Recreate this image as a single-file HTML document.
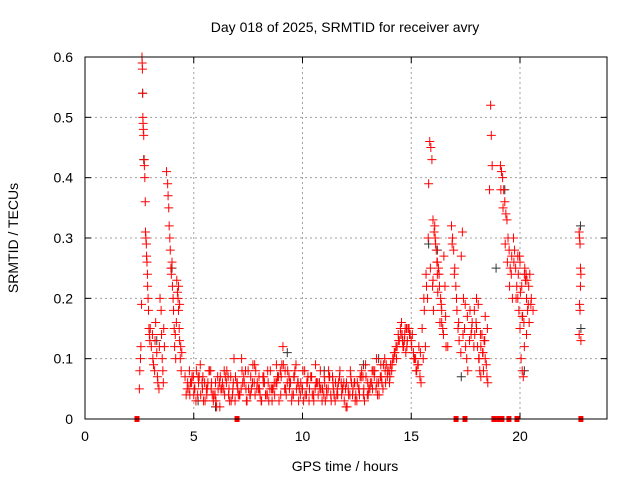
<!DOCTYPE html>
<html><head><meta charset="utf-8"><style>
body{margin:0;background:#fff;}
svg text{font-family:"Liberation Sans",sans-serif;font-size:14px;fill:#000;}
</style></head><body>
<svg id="chart" width="640" height="480" xmlns="http://www.w3.org/2000/svg">
<rect width="640" height="480" fill="#fff"/>
<text x="345" y="32" text-anchor="middle">Day 018 of 2025, SRMTID for receiver avry</text>
<text x="345" y="471" text-anchor="middle">GPS time / hours</text>
<text transform="translate(18,238) rotate(-90)" text-anchor="middle">SRMTID / TECUs</text>
<g id="grid"></g>
<g id="ticks"></g>
<g id="black"></g>
<g id="red"></g>
<g id="sq"></g>
<rect x="85" y="57" width="522" height="362" fill="none" stroke="#000" stroke-width="1"/>
</svg>
<script>
const xTicks=[0,5,10,15,20];
const yTicks=[0,0.1,0.2,0.3,0.4,0.5,0.6];
const yTickLabels=["0","0.1","0.2","0.3","0.4","0.5","0.6"];
const zeroTimes=[2.39,6.99,17.06,17.47,18.8,19.02,19.17,19.49,19.86,22.8];
const redT=[
2.5,2.52,2.55,2.57,2.6,2.62,2.63,2.64,2.65,2.66,2.67,2.68,2.7,2.72,2.73,2.75,2.77,2.78,2.8,2.82,2.83,2.85,2.87,2.88,2.9,2.92,2.94,2.96,2.98,3.0,
3.05,3.1,3.12,3.15,3.2,3.22,3.25,3.3,3.33,3.35,3.4,3.42,3.45,3.5,3.52,3.55,3.58,3.6,3.62,3.65,
3.75,3.8,3.82,3.85,3.87,3.9,3.92,3.95,3.97,4.0,4.02,4.05,4.07,4.1,4.12,4.15,4.17,4.2,4.22,4.25,
4.28,4.3,4.33,4.35,4.38,4.4,4.42,4.45,4.3,4.35,
4.6,4.7,4.8,4.9,5.0,5.1,5.2,5.3,5.4,5.5,5.6,5.7,5.8,5.9,6.0,6.1,6.2,6.3,6.4,6.5,6.6,6.7,6.8,6.9,7.0,7.1,7.2,7.3,7.4,7.5,7.6,7.7,7.8,7.9,8.0,8.1,8.2,8.3,8.4,8.5,8.6,8.7,8.8,8.9,9.0,9.1,9.2,9.3,9.4,9.5,9.6,9.7,9.8,9.9,10.0,10.1,10.2,10.3,10.4,10.5,10.6,10.7,10.8,10.9,11.0,11.1,11.2,11.3,11.4,11.5,11.6,11.7,11.8,11.9,12.0,12.1,12.2,12.3,12.4,12.5,12.6,12.7,12.8,12.9,13.0,13.1,13.2,13.3,13.4,13.5,13.6,13.7,13.8,13.9,
4.65,4.85,5.05,5.25,5.45,5.65,5.85,6.05,6.25,6.45,6.65,6.85,7.05,7.25,7.45,7.65,7.85,8.05,8.25,8.45,8.65,8.85,9.05,9.25,9.45,9.65,9.85,10.05,10.25,10.45,10.65,10.85,11.05,11.25,11.45,11.65,11.85,12.05,12.25,12.45,12.65,12.85,13.05,13.25,13.45,13.65,13.85,
14.0,14.1,14.2,14.3,14.4,14.5,14.6,14.7,14.8,14.9,15.0,15.1,15.2,15.3,15.4,14.05,14.25,14.45,14.65,14.85,15.05,15.25,15.45,14.55,14.75,
15.5,15.6,15.7,15.8,15.85,15.9,15.95,16.0,16.05,16.1,16.15,16.2,16.25,16.3,16.35,16.4,16.45,16.5,16.55,16.6,15.55,15.65,15.75,16.0,16.2,16.4,
16.85,16.9,16.95,17.0,17.05,17.1,17.15,17.2,17.3,17.35,17.4,17.45,17.5,17.55,17.6,17.7,17.75,17.8,
17.9,18.0,18.05,18.1,18.15,18.2,18.25,18.3,18.35,18.4,18.45,18.5,18.0,18.2,18.4,
18.65,18.68,18.72,18.6,
19.1,19.15,19.2,19.25,19.3,19.35,19.4,19.45,19.5,19.55,19.6,19.65,
19.7,19.75,19.8,19.85,19.9,19.95,20.0,20.05,20.1,20.15,20.2,20.25,20.3,20.35,20.4,20.45,20.5,19.9,20.0,20.1,20.2,20.3,
22.72,22.74,22.76,22.78,22.8,22.78,22.74,22.76,22.72,22.8
];
const redV=[
0.05,0.08,0.1,0.12,0.19,0.6,0.59,0.58,0.54,0.5,0.49,0.48,0.47,0.43,0.42,0.40,0.36,0.31,0.30,0.29,0.27,0.26,0.24,0.22,0.2,0.18,0.15,0.14,0.13,0.15,
0.12,0.14,0.1,0.09,0.08,0.13,0.16,0.11,0.07,0.06,0.05,0.12,0.2,0.18,0.14,0.10,0.08,0.06,0.15,0.12,
0.41,0.39,0.37,0.35,0.32,0.3,0.28,0.25,0.24,0.26,0.22,0.2,0.18,0.15,0.12,0.14,0.1,0.16,0.23,0.21,
0.2,0.18,0.15,0.13,0.1,0.12,0.08,0.11,0.22,0.19,
0.07,0.05,0.08,0.06,0.04,0.03,0.07,0.09,0.05,0.06,0.04,0.08,0.05,0.03,0.06,0.07,0.02,0.05,0.08,0.06,0.04,0.07,0.05,0.03,0.06,0.04,0.1,0.07,0.05,0.08,0.04,0.06,0.09,0.05,0.07,0.03,0.06,0.04,0.08,0.05,0.03,0.06,0.09,0.07,0.04,0.12,0.08,0.06,0.05,0.03,0.07,0.09,0.06,0.04,0.05,0.08,0.06,0.03,0.07,0.04,0.09,0.06,0.05,0.03,0.07,0.05,0.08,0.04,0.06,0.03,0.05,0.07,0.04,0.06,0.02,0.05,0.08,0.04,0.06,0.03,0.05,0.07,0.04,0.09,0.06,0.05,0.08,0.07,0.1,0.06,0.09,0.05,0.08,0.07,
0.04,0.06,0.05,0.07,0.03,0.06,0.04,0.02,0.05,0.07,0.03,0.1,0.04,0.06,0.03,0.05,0.08,0.04,0.06,0.03,0.05,0.07,0.09,0.04,0.06,0.08,0.05,0.03,0.07,0.04,0.06,0.05,0.03,0.07,0.04,0.06,0.05,0.02,0.06,0.04,0.07,0.03,0.05,0.08,0.04,0.06,0.09,
0.06,0.08,0.1,0.12,0.14,0.15,0.13,0.14,0.12,0.15,0.13,0.11,0.1,0.09,0.07,0.09,0.11,0.13,0.12,0.15,0.14,0.08,0.06,0.16,0.11,
0.15,0.18,0.22,0.39,0.46,0.45,0.43,0.33,0.31,0.3,0.28,0.26,0.25,0.22,0.2,0.18,0.15,0.27,0.22,0.12,0.1,0.12,0.2,0.23,0.24,0.16,
0.32,0.3,0.28,0.25,0.22,0.18,0.15,0.13,0.27,0.31,0.2,0.15,0.12,0.1,0.08,0.18,0.14,0.16,
0.18,0.15,0.12,0.1,0.08,0.07,0.14,0.11,0.13,0.17,0.09,0.15,0.2,0.12,0.1,
0.52,0.47,0.42,0.38,
0.42,0.41,0.40,0.38,0.36,0.34,0.33,0.3,0.28,0.25,0.24,0.2,
0.3,0.28,0.25,0.22,0.2,0.18,0.15,0.1,0.08,0.07,0.24,0.23,0.2,0.18,0.22,0.24,0.19,0.27,0.26,0.17,0.12,0.14,
0.31,0.3,0.29,0.25,0.24,0.22,0.19,0.18,0.14,0.13
];
const red2T=[
4.72,4.82,4.92,5.02,5.12,5.22,5.32,5.42,5.52,5.62,5.72,5.82,5.92,6.02,6.12,6.22,6.32,6.42,6.52,6.62,6.72,6.82,6.92,7.02,7.12,7.22,7.32,7.42,7.52,7.62,7.72,7.82,7.92,8.02,8.12,8.22,8.32,8.42,8.52,8.62,8.72,8.82,8.92,9.02,9.12,9.22,9.32,9.42,9.52,9.62,9.72,9.82,9.92,10.02,10.12,10.22,10.32,10.42,10.52,10.62,10.72,10.82,10.92,11.02,11.12,11.22,11.32,11.42,11.52,11.62,11.72,11.82,11.92,12.02,12.12,12.22,12.32,12.42,12.52,12.62,12.72,12.82,12.92,13.02,13.12,13.22,13.32,13.42,13.52,13.62,13.72,13.82,13.92,
4.78,4.98,5.18,5.38,5.58,5.78,5.98,6.18,6.38,6.58,6.78,6.98,7.18,7.38,7.58,7.78,7.98,8.18,8.38,8.58,8.78,8.98,9.18,9.38,9.58,9.78,9.98,10.18,10.38,10.58,10.78,10.98,11.18,11.38,11.58,11.78,11.98,12.18,12.38,12.58,12.78,12.98,13.18,13.38,13.58,13.78,13.98,
14.02,14.12,14.22,14.32,14.42,14.52,14.62,14.72,14.82,14.92,15.02,15.12,15.22,15.32,15.42,14.15,14.35,14.58,14.68,14.78,14.95,15.15,15.35,
15.58,15.68,15.78,15.88,15.98,16.08,16.18,16.28,16.38,16.48,16.58,16.68,16.12,16.22,16.32,16.02,
16.88,16.98,17.08,17.18,17.28,17.38,17.48,17.58,17.68,17.78,17.88,17.98,18.08,18.18,18.28,18.38,18.48,18.52,17.92,18.12,18.32,
19.12,19.22,19.32,19.42,19.52,19.62,19.72,19.82,19.92,20.02,20.12,20.22,20.32,20.42,20.52,20.6,19.98,20.08,20.18,20.28,20.38
];
const red2V=[
0.06,0.04,0.07,0.05,0.08,0.06,0.04,0.07,0.03,0.05,0.08,0.06,0.04,0.03,0.05,0.07,0.06,0.04,0.08,0.05,0.03,0.06,0.07,0.05,0.04,0.08,0.06,0.03,0.05,0.07,0.09,0.04,0.06,0.05,0.03,0.07,0.04,0.06,0.08,0.05,0.04,0.06,0.03,0.07,0.09,0.05,0.08,0.06,0.04,0.07,0.05,0.03,0.06,0.08,0.04,0.06,0.05,0.07,0.03,0.06,0.04,0.08,0.05,0.06,0.04,0.07,0.03,0.05,0.06,0.04,0.08,0.05,0.03,0.06,0.04,0.07,0.05,0.03,0.06,0.04,0.08,0.05,0.07,0.04,0.06,0.05,0.08,0.06,0.04,0.07,0.09,0.06,0.08,
0.05,0.07,0.04,0.06,0.05,0.08,0.04,0.06,0.05,0.07,0.04,0.06,0.05,0.08,0.04,0.06,0.05,0.07,0.04,0.05,0.06,0.08,0.05,0.07,0.04,0.06,0.05,0.04,0.07,0.05,0.06,0.04,0.05,0.07,0.04,0.06,0.05,0.04,0.06,0.05,0.07,0.04,0.06,0.05,0.07,0.1,0.08,
0.07,0.09,0.11,0.1,0.13,0.14,0.12,0.15,0.13,0.14,0.12,0.1,0.08,0.09,0.11,0.1,0.12,0.14,0.13,0.15,0.14,0.1,0.12,
0.2,0.24,0.3,0.25,0.22,0.32,0.26,0.24,0.19,0.14,0.17,0.12,0.29,0.21,0.16,0.18,
0.29,0.24,0.2,0.16,0.11,0.14,0.19,0.17,0.13,0.15,0.12,0.16,0.19,0.14,0.11,0.13,0.07,0.06,0.14,0.1,0.08,
0.38,0.35,0.29,0.26,0.22,0.27,0.26,0.2,0.24,0.21,0.17,0.25,0.23,0.16,0.2,0.18,0.27,0.22,0.16,0.24,0.19
];
const blackT=[2.65,2.7,3.3,4.0,6.0,9.3,12.8,13.5,15.8,16.2,17.3,18.9,19.3,20.2,22.78,22.8,5.2,11.0];
const blackV=[0.54,0.43,0.13,0.25,0.02,0.11,0.09,0.1,0.29,0.28,0.07,0.25,0.38,0.08,0.32,0.15,0.03,0.08];

const X0=85,X1=607,Y0=419,Y1=57;
const xs=t=>X0+t*(X1-X0)/24;
const ys=v=>Y0-v*(Y0-Y1)/0.6;
const NS="http://www.w3.org/2000/svg";
function mk(tag,attrs,parent){const e=document.createElementNS(NS,tag);for(const k in attrs)e.setAttribute(k,attrs[k]);parent.appendChild(e);return e;}
const grid=document.getElementById('grid'),ticks=document.getElementById('ticks');
xTicks.forEach(t=>{
  const x=xs(t);
  if(t>0){const g=mk('line',{x1:x,x2:x,y1:Y1,y2:Y0,stroke:'#a0a0a0','stroke-dasharray':'2,3'},grid);
  
  }
  mk('line',{x1:x,x2:x,y1:Y0,y2:Y0-6,stroke:'#000'},ticks);
  mk('line',{x1:x,x2:x,y1:Y1,y2:Y1+6,stroke:'#000'},ticks);
  const l=mk('text',{x:x,y:Y0+22,'text-anchor':'middle'},ticks);l.textContent=t;
  
  
});
yTicks.forEach((v,i)=>{
  const y=ys(v);
  if(v>0&&v<0.6){const g=mk('line',{x1:X0,x2:X1,y1:y,y2:y,stroke:'#a0a0a0','stroke-dasharray':'2,3'},grid);
  
  }
  mk('line',{x1:X0,x2:X0+6,y1:y,y2:y,stroke:'#000'},ticks);
  mk('line',{x1:X1,x2:X1-6,y1:y,y2:y,stroke:'#000'},ticks);
  const l=mk('text',{x:X0-12,y:y+5,'text-anchor':'end'},ticks);l.textContent=yTickLabels[i];
  
  
});
function plus(g,t,v,c){
  const x=xs(t),y=ys(v);
  const p=mk('path',{d:`M${x-4.5},${y}H${x+4.5}M${x},${y-4.5}V${y+4.5}`,stroke:c,'stroke-width':1,fill:'none'},g);
  
  
}
const bg=document.getElementById('black'),rg=document.getElementById('red');
blackT.forEach((t,i)=>plus(bg,t,blackV[i],'#333'));
redT.forEach((t,i)=>plus(rg,t,redV[i],'#ff0000'));
red2T.forEach((t,i)=>plus(rg,t,red2V[i],'#ff0000'));
const sq=document.getElementById('sq');
zeroTimes.forEach(t=>{
  const r=mk('rect',{x:xs(t)-2.5,y:Y0-3,width:5,height:6,fill:'#ff0000'},sq);
  
  
});
</script>
</body></html>
